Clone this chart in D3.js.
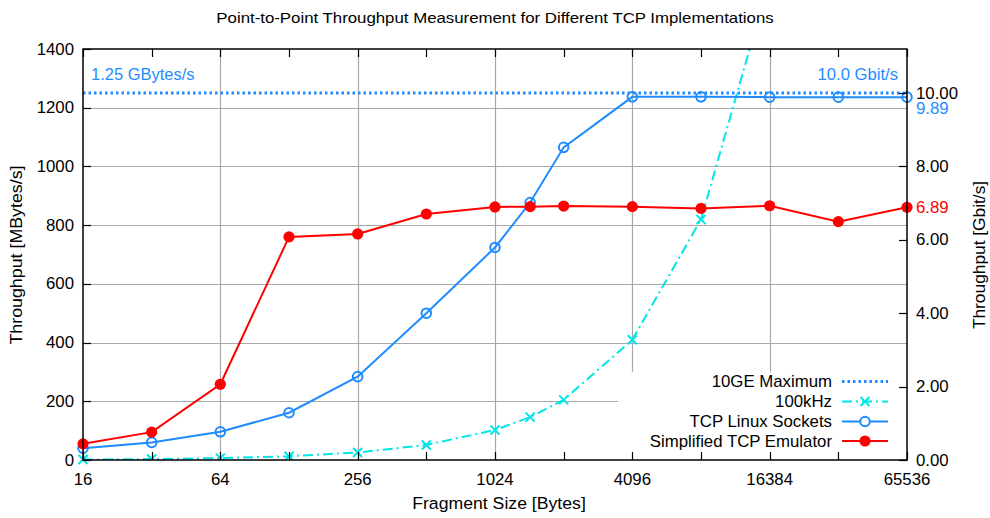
<!DOCTYPE html>
<html><head><meta charset="utf-8">
<script src="https://cdn.jsdelivr.net/npm/d3@7"></script>
<style>
body{margin:0;background:#fff}
text{font-family:"Liberation Sans",Arial,Helvetica,sans-serif;}
</style>
</head><body>
<svg id="c" width="990" height="518"></svg>
<script>
// ---- data ----
const sizes = [16,32,64,128,256,512,1024,1460,2048,4096,8192,16384,32768,65536];
const emulator = [55,95,258,760,770,838,862,863,865,863,857,866,812,861];
const linuxSockets = [40,60,96,161,284,500,724,877,1065,1237,1237,1236,1236,1236];
const rateSizes = [16,32,64,128,256,512,1024,1460,2048,4096,8192,16384];
const rate100k = [1.6,3.2,6.4,12.8,25.6,51.2,102.4,146,204.8,409.6,819.2,1638.4];
const maxRate = 1250; // MBytes/s
const xTickLabels = [16,64,256,1024,4096,16384,65536];
const xMinorTicks = [32,128,512,2048,8192,32768];
const yTicks = [0,200,400,600,800,1000,1200,1400];
const gbitTicks = [0,2,4,6,8,10];
const legendNames = ["10GE Maximum","100kHz","TCP Linux Sockets","Simplified TCP Emulator"];

const blue = "#1e8cff", red = "#ff0000", cyan = "#00e5e5", grid = "#a8a8a8";
const L = 83, R = 907, T = 49, B = 460;
const svg = d3.select("#c");
const x = d3.scaleLog().base(2).domain([16,65536]).range([L,R]);
const y = d3.scaleLinear().domain([0,1400]).range([B,T]);
const y2 = d3.scaleLinear().domain([0,1400*8/1000]).range([B,T]);

// text helper: horizontally stretched text (reference font is slightly wider than Arial)
function txt(parent, px, py, str, o={}){
  const size = o.size||16, sx = o.sx||1.05, rot = o.rot||0;
  return parent.append("text")
    .attr("transform",`translate(${px},${py}) rotate(${rot}) scale(${sx},1)`)
    .attr("text-anchor",o.anchor||"start")
    .attr("fill",o.fill||"#000")
    .style("font-size",size+"px").text(str);
}

// title
txt(svg,495,23,"Point-to-Point Throughput Measurement for Different TCP Implementations",{size:14.5,sx:1.16,anchor:"middle"});

// gridlines
const g = svg.append("g");
g.selectAll(".hg").data(yTicks.slice(1,-1)).join("line")
  .attr("x1",L).attr("x2",R).attr("y1",d=>Math.round(y(d))+0.5).attr("y2",d=>Math.round(y(d))+0.5)
  .attr("stroke",grid).attr("stroke-width",1.2);
g.selectAll(".vg").data(xTickLabels.slice(1,-1)).join("line")
  .attr("x1",d=>Math.round(x(d))+0.5).attr("x2",d=>Math.round(x(d))+0.5).attr("y1",T).attr("y2",B)
  .attr("stroke",grid).attr("stroke-width",1.2);

// legend background box
svg.append("rect").attr("x",618).attr("y",372).attr("width",R-618).attr("height",B-372).attr("fill","#fff");

// clip
svg.append("clipPath").attr("id","clip").append("rect").attr("x",L).attr("y",T).attr("width",R-L).attr("height",B-T);
const plot = svg.append("g").attr("clip-path","url(#clip)");

// 10GE max
plot.append("line").attr("x1",L).attr("x2",R).attr("y1",y(maxRate)).attr("y2",y(maxRate))
  .attr("stroke",blue).attr("stroke-width",3).attr("stroke-dasharray","2.5,3");

const line = d3.line().x(d=>x(d[0])).y(d=>y(d[1]));

// 100kHz
const cyData = rateSizes.map((s,i)=>[s,rate100k[i]]);
plot.append("path").attr("d",line(cyData)).attr("fill","none").attr("stroke",cyan)
  .attr("stroke-width",2).attr("stroke-dasharray","10,4,2,4");
function cross(sel, cx, cy, col){
  const s=4.5;
  sel.append("path").attr("d",`M${cx-s},${cy-s}L${cx+s},${cy+s}M${cx-s},${cy+s}L${cx+s},${cy-s}`)
    .attr("stroke",col).attr("stroke-width",2).attr("fill","none");
}
cyData.forEach(d=>cross(plot,x(d[0]),y(d[1]),cyan));

// Linux sockets
const blData = sizes.map((s,i)=>[s,linuxSockets[i]]);
plot.append("path").attr("d",line(blData)).attr("fill","none").attr("stroke",blue).attr("stroke-width",2);

// emulator
const rdData = sizes.map((s,i)=>[s,emulator[i]]);
plot.append("path").attr("d",line(rdData)).attr("fill","none").attr("stroke",red).attr("stroke-width",2);

// markers (unclipped so edge markers are whole)
svg.selectAll(".bc2").data(blData).join("circle").attr("cx",d=>x(d[0])).attr("cy",d=>y(d[1]))
  .attr("r",4.8).attr("fill","none").attr("stroke",blue).attr("stroke-width",2);
svg.selectAll(".rc").data(rdData).join("circle").attr("cx",d=>x(d[0])).attr("cy",d=>y(d[1]))
  .attr("r",5.6).attr("fill",red);
cross(svg, x(cyData[0][0]), y(cyData[0][1]), cyan);

// frame
svg.append("rect").attr("x",L).attr("y",T).attr("width",R-L).attr("height",B-T)
  .attr("fill","none").attr("stroke","#000").attr("stroke-width",1.5);

// ticks
const tk = svg.append("g").attr("stroke","#000").attr("stroke-width",1.2);
xTickLabels.concat(xMinorTicks).forEach(d=>{
  const xx = Math.round(x(d))+0.5;
  tk.append("line").attr("x1",xx).attr("x2",xx).attr("y1",B).attr("y2",B-8);
  tk.append("line").attr("x1",xx).attr("x2",xx).attr("y1",T).attr("y2",T+8);
});
yTicks.forEach(d=>{
  const yy = Math.round(y(d))+0.5;
  tk.append("line").attr("x1",L).attr("x2",L+8).attr("y1",yy).attr("y2",yy);
});
gbitTicks.forEach(d=>{
  const yy = Math.round(y2(d))+0.5;
  tk.append("line").attr("x1",R).attr("x2",R-8).attr("y1",yy).attr("y2",yy);
});

// tick labels
xTickLabels.forEach(d=>txt(svg,x(d),485,d,{anchor:"middle"}));
yTicks.forEach(d=>txt(svg,74,y(d)+5.5,d,{anchor:"end"}));
gbitTicks.forEach(d=>txt(svg,916,y2(d)+5.5,d.toFixed(2)));

// right value labels
const lastBlue = linuxSockets[linuxSockets.length-1], lastRed = emulator[emulator.length-1];
txt(svg,916,y(lastBlue)+16.5,(lastBlue*8/1000).toFixed(2),{fill:blue});
txt(svg,916,y(lastRed)+5.5,(lastRed*8/1000).toFixed(2),{fill:red});

// annotations
txt(svg,91,80,"1.25 GBytes/s",{fill:blue,size:16,sx:1.03});
txt(svg,898,80,"10.0 Gbit/s",{fill:blue,size:16,sx:1.04,anchor:"end"});

// axis titles
txt(svg,499,509,"Fragment Size [Bytes]",{size:16.5,sx:1.07,anchor:"middle"});
txt(svg,22,255,"Throughput [MBytes/s]",{size:16.5,sx:1.08,anchor:"middle",rot:-90});
txt(svg,985,255,"Throughput [Gbit/s]",{size:16.5,sx:1.05,anchor:"middle",rot:-90});

// legend
const ly = [381.5,401.5,421.5,441];
const lg = svg.append("g");
legendNames.forEach((n,i)=>txt(lg,832,ly[i]+5.5,n,{anchor:"end"}));
lg.append("line").attr("x1",842).attr("x2",888).attr("y1",ly[0]).attr("y2",ly[0]).attr("stroke",blue).attr("stroke-width",3).attr("stroke-dasharray","2.5,3");
lg.append("line").attr("x1",842).attr("x2",888).attr("y1",ly[1]).attr("y2",ly[1]).attr("stroke",cyan).attr("stroke-width",2).attr("stroke-dasharray","10,4,2,4");
cross(lg,865,ly[1],cyan);
lg.append("line").attr("x1",842).attr("x2",888).attr("y1",ly[2]).attr("y2",ly[2]).attr("stroke",blue).attr("stroke-width",2);
lg.append("circle").attr("cx",865).attr("cy",ly[2]).attr("r",4.8).attr("fill","#fff").attr("stroke",blue).attr("stroke-width",2);
lg.append("line").attr("x1",842).attr("x2",888).attr("y1",ly[3]).attr("y2",ly[3]).attr("stroke",red).attr("stroke-width",2);
lg.append("circle").attr("cx",865).attr("cy",ly[3]).attr("r",5.6).attr("fill",red);
</script>
</body></html>
